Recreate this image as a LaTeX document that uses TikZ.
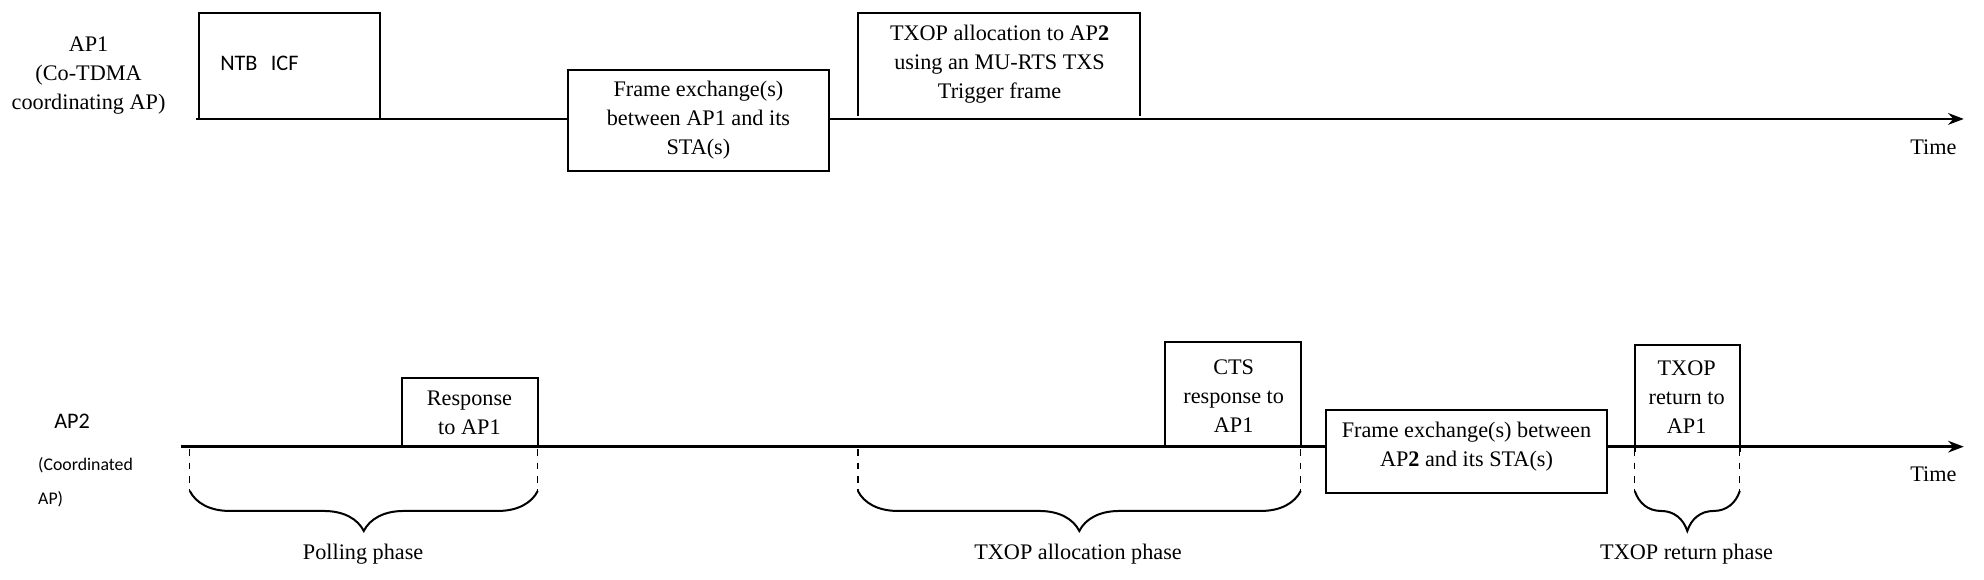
\documentclass[tikz,border=0pt]{standalone}
\usepackage{fontspec}
\setmainfont{Liberation Serif}
\newfontfamily\lab{Carlito}
\usetikzlibrary{decorations.pathreplacing,arrows.meta}
\tikzset{
  axis/.style={line width=1.2pt,-{Stealth[length=7pt]}},
  box/.style={line width=0.9pt},
  ph/.style={dashed,line width=0.6pt},
  brc/.style={decorate,decoration={brace,mirror,amplitude=18pt,aspect=0.5},line width=0.9pt},
  txt/.style={font=\fontsize{10}{13}\selectfont,align=center}
}
\begin{document}
\begin{tikzpicture}[x=0.02cm,y=-0.02cm]
  \useasboundingbox (0,0) rectangle (1568,458);
  % AP1 row
  \coordinate (a1s) at (155,94); \coordinate (a1e) at (1552,94);
  \draw[axis] (a1s) -- (a1e);
  \node[txt] (ap1) at (70,60) {AP1\\(Co-TDMA\\coordinating AP)};
  \node[txt] (time1) at (1528,116) {Time};
  \draw[box] (157,94) -- (157,10) -- (300,10) -- (300,94);
  \node[font=\lab\fontsize{10}{12}\selectfont] (icf) at (205,50) {NTB\hspace{6pt}ICF};
  \draw[box,fill=white] (449,55) rectangle (655,135);
  \node[txt] (fx1) at (552,95) {Frame exchange(s)\\between AP1 and its\\STA(s)};
  \draw[box] (678,92) -- (678,10) -- (901,10) -- (901,92);
  \node[txt] (alloc) at (790,51) {TXOP allocation to AP\textbf{2}\\using an MU-RTS TXS\\Trigger frame};
  % AP2 row
  \coordinate (a2s) at (143,353); \coordinate (a2e) at (1552,353);
  \draw[axis] (a2s) -- (a2e);
  \node[font=\lab\fontsize{10}{12}\selectfont] (ap2) at (57,333) {AP2};
  \node[font=\lab\fontsize{8}{15}\selectfont,align=left,anchor=west] (coord) at (24,381) {(Coordinated\\AP)};
  \node[txt] (time2) at (1528,375) {Time};
  \draw[box] (318,353) -- (318,299) -- (425,299) -- (425,353);
  \node[txt] (resp) at (371,326) {Response\\to AP1};
  \draw[box] (921,353) -- (921,270) -- (1028,270) -- (1028,353);
  \node[txt] (cts) at (975,313) {CTS\\response to\\AP1};
  \draw[box,fill=white] (1048,324) rectangle (1270,390);
  \node[txt] (fx2) at (1159,353) {Frame exchange(s) between\\AP\textbf{2} and its STA(s)};
  \draw[box] (1292,357) -- (1292,273) -- (1375,273) -- (1375,357);
  \node[txt] (ret) at (1333,314) {TXOP\\return to\\AP1};
  % phases
  \foreach \x in {150,425,678,1028,1292,1375}
    \draw[ph] (\x,355) -- (\x,388);
  \draw[brc] (150,388) -- (425,388);
  \draw[brc] (678,388) -- (1028,388);
  \draw[brc] (1292,388) -- (1375,388);
  \node[txt] (poll) at (287,438) {Polling phase};
  \node[txt] (allocp) at (852,438) {TXOP allocation phase};
  \node[txt] (retp) at (1333,438) {TXOP return phase};
\end{tikzpicture}
\end{document}
